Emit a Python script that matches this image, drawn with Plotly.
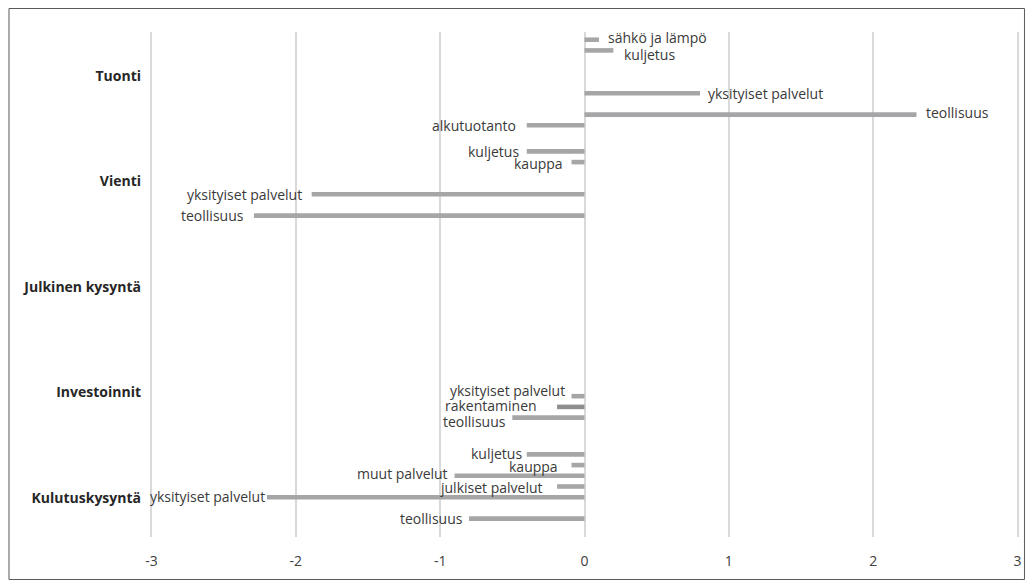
import plotly.graph_objects as go

# ---------------- data ----------------
categories = ["Tuonti", "Vienti", "Julkinen kysyntä", "Investoinnit", "Kulutuskysyntä"]
sectors = ["sähkö ja lämpö", "kuljetus", "kauppa", "muut palvelut", "julkiset palvelut",
           "yksityiset palvelut", "rakentaminen", "teollisuus", "alkutuotanto"]

sahko_ja_lampo = [0.1, None, None, None, None]
kuljetus = [0.2, -0.4, None, None, -0.4]
kauppa = [None, -0.09, None, None, -0.09]
muut_palvelut = [None, None, None, None, -0.9]
julkiset_palvelut = [None, None, None, None, -0.19]
yksityiset_palvelut = [0.8, -1.89, None, -0.09, -2.2]
rakentaminen = [None, None, None, -0.19, None]
teollisuus = [2.3, -2.29, None, -0.5, -0.8]
alkutuotanto = [-0.4, None, None, None, None]

x_tick_values = [-3, -2, -1, 0, 1, 2, 3]
x_tick_labels = ["-3", "-2", "-1", "0", "1", "2", "3"]

series = [sahko_ja_lampo, kuljetus, kauppa, muut_palvelut, julkiset_palvelut,
          yksityiset_palvelut, rakentaminen, teollisuus, alkutuotanto]

# ---------------- style ----------------
W, H = 1020, 572
ML, MR, MT, MB = 142, 6, 24, 43
PW, PH = W - ML - MR, H - MT - MB
BARGAP, BARGROUPGAP = 0.047, 0.57
BAR_COLOR = "#a6a6a8"
DARK_BAR = "#8e8e90"
TEXT_COLOR = "#3a3a3a"
LABEL_FONT = dict(family="Open Sans, sans-serif", size=14, color=TEXT_COLOR)

DEFAULT_GAP = 9.5
# (category, sector): (horizontal gap in px, vertical nudge in px, + = down)
label_offsets = {
    ("Tuonti", "sähkö ja lämpö"): (9.5, -2),
    ("Tuonti", "kuljetus"): (10.5, 4),
    ("Tuonti", "yksityiset palvelut"): (8.5, 0),
    ("Tuonti", "teollisuus"): (9.5, -2),
    ("Tuonti", "alkutuotanto"): (10.5, 0),
    ("Vienti", "kuljetus"): (8, 0),
    ("Vienti", "kauppa"): (9, 1),
    ("Investoinnit", "yksityiset palvelut"): (7, -6),
    ("Investoinnit", "rakentaminen"): (20, -1),
    ("Investoinnit", "teollisuus"): (6, 4),
    ("Kulutuskysyntä", "kuljetus"): (5, -1),
    ("Kulutuskysyntä", "kauppa"): (14, 1),
    ("Kulutuskysyntä", "muut palvelut"): (7, -2),
    ("Kulutuskysyntä", "julkiset palvelut"): (14, 1),
    ("Kulutuskysyntä", "yksityiset palvelut"): (1.5, -1),
    ("Kulutuskysyntä", "teollisuus"): (6, 0),
}

fig = go.Figure()
for name, vals in zip(sectors, series):
    fig.add_trace(go.Bar(
        y=categories, x=vals, orientation="h", name=name,
        marker=dict(color=DARK_BAR if name == "rakentaminen" else BAR_COLOR, line=dict(width=0)),
        hoverinfo="x+name",
    ))

# bar labels next to the bar ends
slot_px = PH / len(categories) * (1 - BARGAP) / len(sectors)
center = (len(sectors) - 1) / 2
annotations = []
for i, (name, vals) in enumerate(zip(sectors, series)):
    for cat, v in zip(categories, vals):
        if v is None:
            continue
        gap, dy = label_offsets.get((cat, name), (DEFAULT_GAP, 0))
        sign = 1 if v > 0 else -1
        annotations.append(dict(
            x=v, y=cat, xref="x", yref="y", text=name, showarrow=False,
            xanchor="left" if v > 0 else "right", yanchor="middle",
            xshift=sign * (gap - 2), yshift=-(i - center) * slot_px - dy,
            font=LABEL_FONT,
        ))

# invisible trace carrying the category label axis
fig.add_trace(go.Scatter(x=[None], y=[None], yaxis="y2", showlegend=False, hoverinfo="skip"))

lab_top_px, lab_bot_px = 76 - 8, 498 - 8
step = (lab_bot_px - lab_top_px) / 4
y2_top = 0 - (lab_top_px - MT) / step
y2_bot = 4 + (MT + PH - lab_bot_px) / step

fig.update_layout(
    width=W, height=H,
    margin=dict(l=ML, r=MR, t=MT, b=MB, pad=0),
    paper_bgcolor="white", plot_bgcolor="white",
    barmode="group", bargap=BARGAP, bargroupgap=BARGROUPGAP,
    showlegend=False,
    annotations=annotations,
    xaxis=dict(range=[-3.01, 3.01], tickvals=x_tick_values, ticktext=x_tick_labels,
               showgrid=True, gridcolor="#d9d9d9", gridwidth=2, zeroline=False,
               showline=False, ticks="", ticklabelstandoff=14,
               tickfont=dict(family="Liberation Sans Narrow, Open Sans, sans-serif", size=14, color="#404040")),
    yaxis=dict(type="category", categoryarray=categories, range=[4.5, -0.5],
               showticklabels=False, showgrid=False, zeroline=False, showline=False, ticks=""),
    yaxis2=dict(overlaying="y", side="left", range=[y2_bot, y2_top],
                tickvals=list(range(len(categories))), ticktext=categories,
                showgrid=False, zeroline=False, showline=False, ticks="", ticklabelstandoff=8,
                tickfont=dict(family="Open Sans, sans-serif", size=14, color="#262626", weight="bold")),
    shapes=[dict(type="rect", xref="paper", yref="paper",
                 x0=(0.5 - ML) / PW, x1=(W - 0.5 - ML) / PW,
                 y0=-(MB - 0.5) / PH, y1=1 + (MT - 0.5) / PH,
                 line=dict(color="#595959", width=1), fillcolor="rgba(0,0,0,0)", layer="below")],
)

fig.write_html("out.html")
